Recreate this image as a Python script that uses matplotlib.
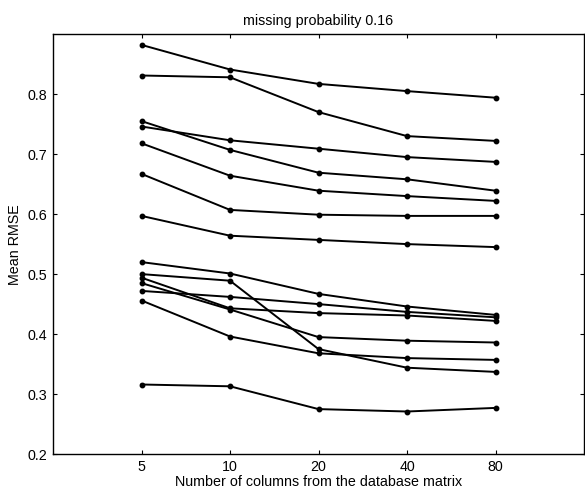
import numpy as np
import matplotlib
matplotlib.use("Agg")
import matplotlib.pyplot as plt

plt.rcParams['font.family'] = ['Liberation Sans', 'DejaVu Sans']

# -----------------------------
# Data
# -----------------------------
columns = ["5", "10", "20", "40", "80"]

series = [
    [0.881, 0.840, 0.816, 0.804, 0.793],
    [0.830, 0.827, 0.769, 0.729, 0.721],
    [0.754, 0.706, 0.668, 0.657, 0.638],
    [0.745, 0.722, 0.708, 0.694, 0.686],
    [0.717, 0.663, 0.638, 0.629, 0.621],
    [0.666, 0.606, 0.598, 0.596, 0.596],
    [0.596, 0.563, 0.556, 0.549, 0.544],
    [0.519, 0.500, 0.466, 0.445, 0.431],
    [0.499, 0.488, 0.374, 0.343, 0.336],
    [0.493, 0.442, 0.434, 0.430, 0.421],
    [0.484, 0.440, 0.394, 0.388, 0.385],
    [0.471, 0.461, 0.449, 0.436, 0.427],
    [0.455, 0.395, 0.367, 0.359, 0.356],
    [0.315, 0.312, 0.274, 0.270, 0.276],
]

# -----------------------------
# Plot
# -----------------------------
fig = plt.figure(figsize=(5.85, 4.89), dpi=100)
ax = fig.add_axes([53/585, 34.5/489, 531/585, 420/489])

x = np.arange(1, len(columns) + 1)
for s in series:
    ax.plot(x, s, color='black', linewidth=1.4, marker='o', markersize=3.2)

ax.set_xlim(0, 6)
ax.set_ylim(0.2, 0.9)
ax.set_xticks(x)
ax.set_xticklabels(columns)
ax.set_yticks([0.2, 0.3, 0.4, 0.5, 0.6, 0.7, 0.8])
ax.set_yticklabels(["0.2", "0.3", "0.4", "0.5", "0.6", "0.7", "0.8"])
ax.tick_params(direction='in', top=True, right=True, length=3, width=0.8,
               labelsize=10.3, pad=4)
for sp in ax.spines.values():
    sp.set_linewidth(1.0)

ax.set_title("missing probability 0.16", fontsize=10.3, pad=7)
ax.set_xlabel("Number of columns from the database matrix", fontsize=10.3, labelpad=1)
ax.set_ylabel("Mean RMSE", fontsize=10.3, labelpad=4)

fig.savefig("out.png", dpi=100)
